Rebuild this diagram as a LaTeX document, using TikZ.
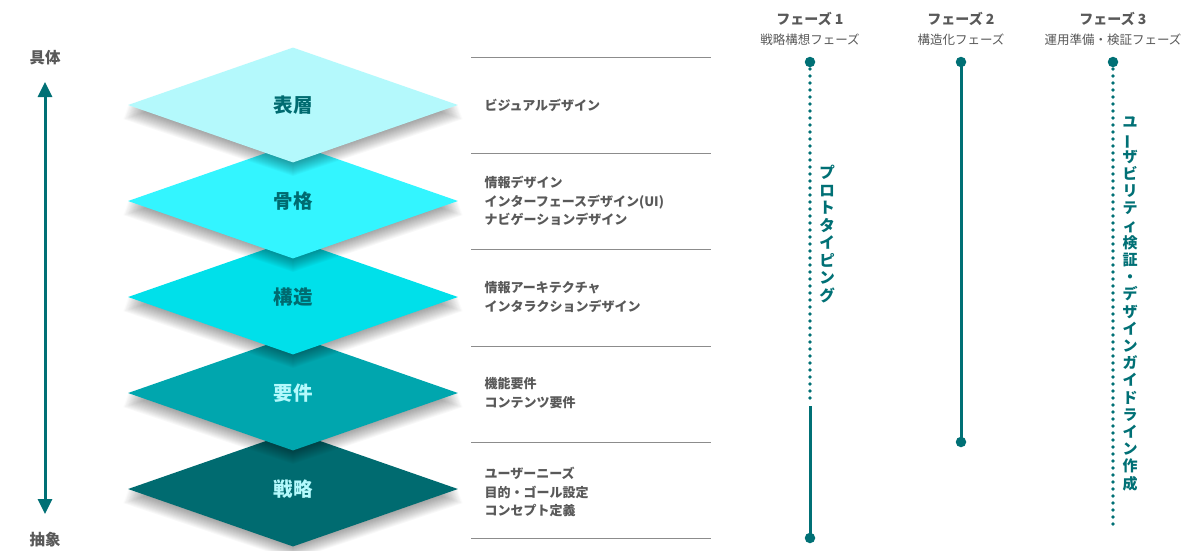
\documentclass[tikz,border=0pt]{standalone}
\usepackage{fontspec}
\usepackage{graphicx}
\setmainfont{Noto Sans CJK JP}
\usetikzlibrary{arrows.meta,shapes.geometric}
\definecolor{tealmain}{RGB}{0,112,117}
\definecolor{txtgray}{RGB}{89,89,89}
\definecolor{linegray}{RGB}{140,140,140}
\definecolor{cA}{RGB}{180,249,252}
\definecolor{cB}{RGB}{51,245,255}
\definecolor{cC}{RGB}{0,224,234}
\definecolor{cD}{RGB}{0,166,174}
\definecolor{cE}{RGB}{0,107,112}
\newcommand{\vbar}{\rotatebox[origin=c]{90}{ー}}
\newcommand{\layershadow}[2]{%
  \foreach \k in {1,...,14}{
    \fill[black, opacity=0.028]
      ({#1-165-0.35*\k},{#2+1.0*\k}) -- ({#1},{#2-57+1.0*\k}) -- ({#1+165+0.35*\k},{#2+1.0*\k}) -- ({#1},{#2+57+1.0*\k}) -- cycle;
  }}
\tikzset{
  layer/.style={shape=diamond, minimum width=330pt, minimum height=115pt, inner sep=0pt,
    font=\fontsize{19.5}{21}\selectfont\bfseries},
  item/.style={anchor=west, align=left, text=txtgray, font=\fontsize{13}{18.5}\selectfont\bfseries},
  sep/.style={draw=linegray, line width=1pt},
  axislabel/.style={text=txtgray, font=\fontsize{15.5}{17}\selectfont\bfseries},
  phasehead/.style={text=txtgray, font=\fontsize{14}{15}\selectfont\bfseries},
  phasesub/.style={text=txtgray, font=\fontsize{12.5}{14}\selectfont},
  pdot/.style={circle, fill=tealmain, inner sep=0pt, minimum size=10.5pt},
  solidline/.style={draw=tealmain, line width=3pt},
  dotline/.style={draw=tealmain, line width=3.6pt, dash pattern=on 0pt off 7pt, line cap=round},
  vtxt/.style={align=center, text=tealmain, inner sep=0pt},
}
\begin{document}
\begin{tikzpicture}[x=1pt,y=-1pt]
\useasboundingbox (0,0) rectangle (1183,550);
\fill[white] (0,0) rectangle (1183,550);

% axis
\node[axislabel] (concrete) at (45,58) {具体};
\node[axislabel] (abstract) at (45,540) {抽象};
\coordinate (atop) at (45,82);
\coordinate (abot) at (45,514);
\draw[tealmain, line width=3pt, {Triangle[width=14pt,length=15pt]}-{Triangle[width=14pt,length=15pt]}] (atop) -- (abot);

% layers (bottom first)
\layershadow{293}{489}
\node[layer, fill=cE, text=cA] (strategy) at (293,489) {戦略};
\layershadow{293}{393}
\node[layer, fill=cD, text=cA] (scope) at (293,393) {要件};
\layershadow{293}{297}
\node[layer, fill=cC, text=cE] (structure) at (293,297) {構造};
\layershadow{293}{201}
\node[layer, fill=cB, text=cE] (skeleton) at (293,201) {骨格};
\layershadow{293}{105}
\node[layer, fill=cA, text=cE] (surface) at (293,105) {表層};

% separators
\foreach \yy/\nm in {57/s0,153/s1,249/s2,346/s3,442/s4,538/s5}{
  \coordinate (\nm l) at (471,\yy);
  \coordinate (\nm r) at (711,\yy);
  \draw[sep] (\nm l) -- (\nm r);
}

% items
\node[item] (i1) at (481,105) {ビジュアルデザイン};
\node[item] (i2) at (481,201) {情報デザイン\\インターフェースデザイン(UI)\\ナビゲーションデザイン};
\node[item] (i3) at (481,297) {情報アーキテクチャ\\インタラクションデザイン};
\node[item] (i4) at (481,393) {機能要件\\コンテンツ要件};
\node[item] (i5) at (481,492) {ユーザーニーズ\\目的・ゴール設定\\コンセプト定義};

% phases
\node[phasehead] (h1) at (810,19) {フェーズ 1};
\node[phasesub] (t1) at (810,40) {戦略構想フェーズ};
\node[phasehead] (h2) at (961,19) {フェーズ 2};
\node[phasesub] (t2) at (961,40) {構造化フェーズ};
\node[phasehead] (h3) at (1113,19) {フェーズ 3};
\node[phasesub] (t3) at (1113,40) {運用準備・検証フェーズ};

% phase 1
\node[pdot] (p1a) at (810,62) {};
\coordinate (p1m) at (810,401);
\coordinate (p1n) at (810,406);
\node[pdot] (p1b) at (810,538) {};
\draw[dotline] (p1a.center) ++(0,7) -- (p1m);
\draw[solidline] (p1n) -- (p1b.center);
\node[vtxt, font=\fontsize{15.5}{17.5}\selectfont\bfseries, anchor=north] (v1) at (827,165)
  {プ\\ロ\\ト\\タ\\イ\\ピ\\ン\\グ};

% phase 2
\node[pdot] (p2a) at (961,62) {};
\node[pdot] (p2b) at (961,442) {};
\draw[solidline] (p2a.center) -- (p2b.center);

% phase 3
\node[pdot] (p3a) at (1113,62) {};
\coordinate (p3e) at (1113,531);
\draw[dotline] (p3a.center) ++(0,7) -- (p3e);
\node[vtxt, font=\fontsize{15}{17.2}\selectfont\bfseries, anchor=north] (v3) at (1130,117)
  {ユ\\\vbar\\ザ\\ビ\\リ\\テ\\ィ\\検\\証\\・\\デ\\ザ\\イ\\ン\\ガ\\イ\\ド\\ラ\\イ\\ン\\作\\成};
\end{tikzpicture}
\end{document}
